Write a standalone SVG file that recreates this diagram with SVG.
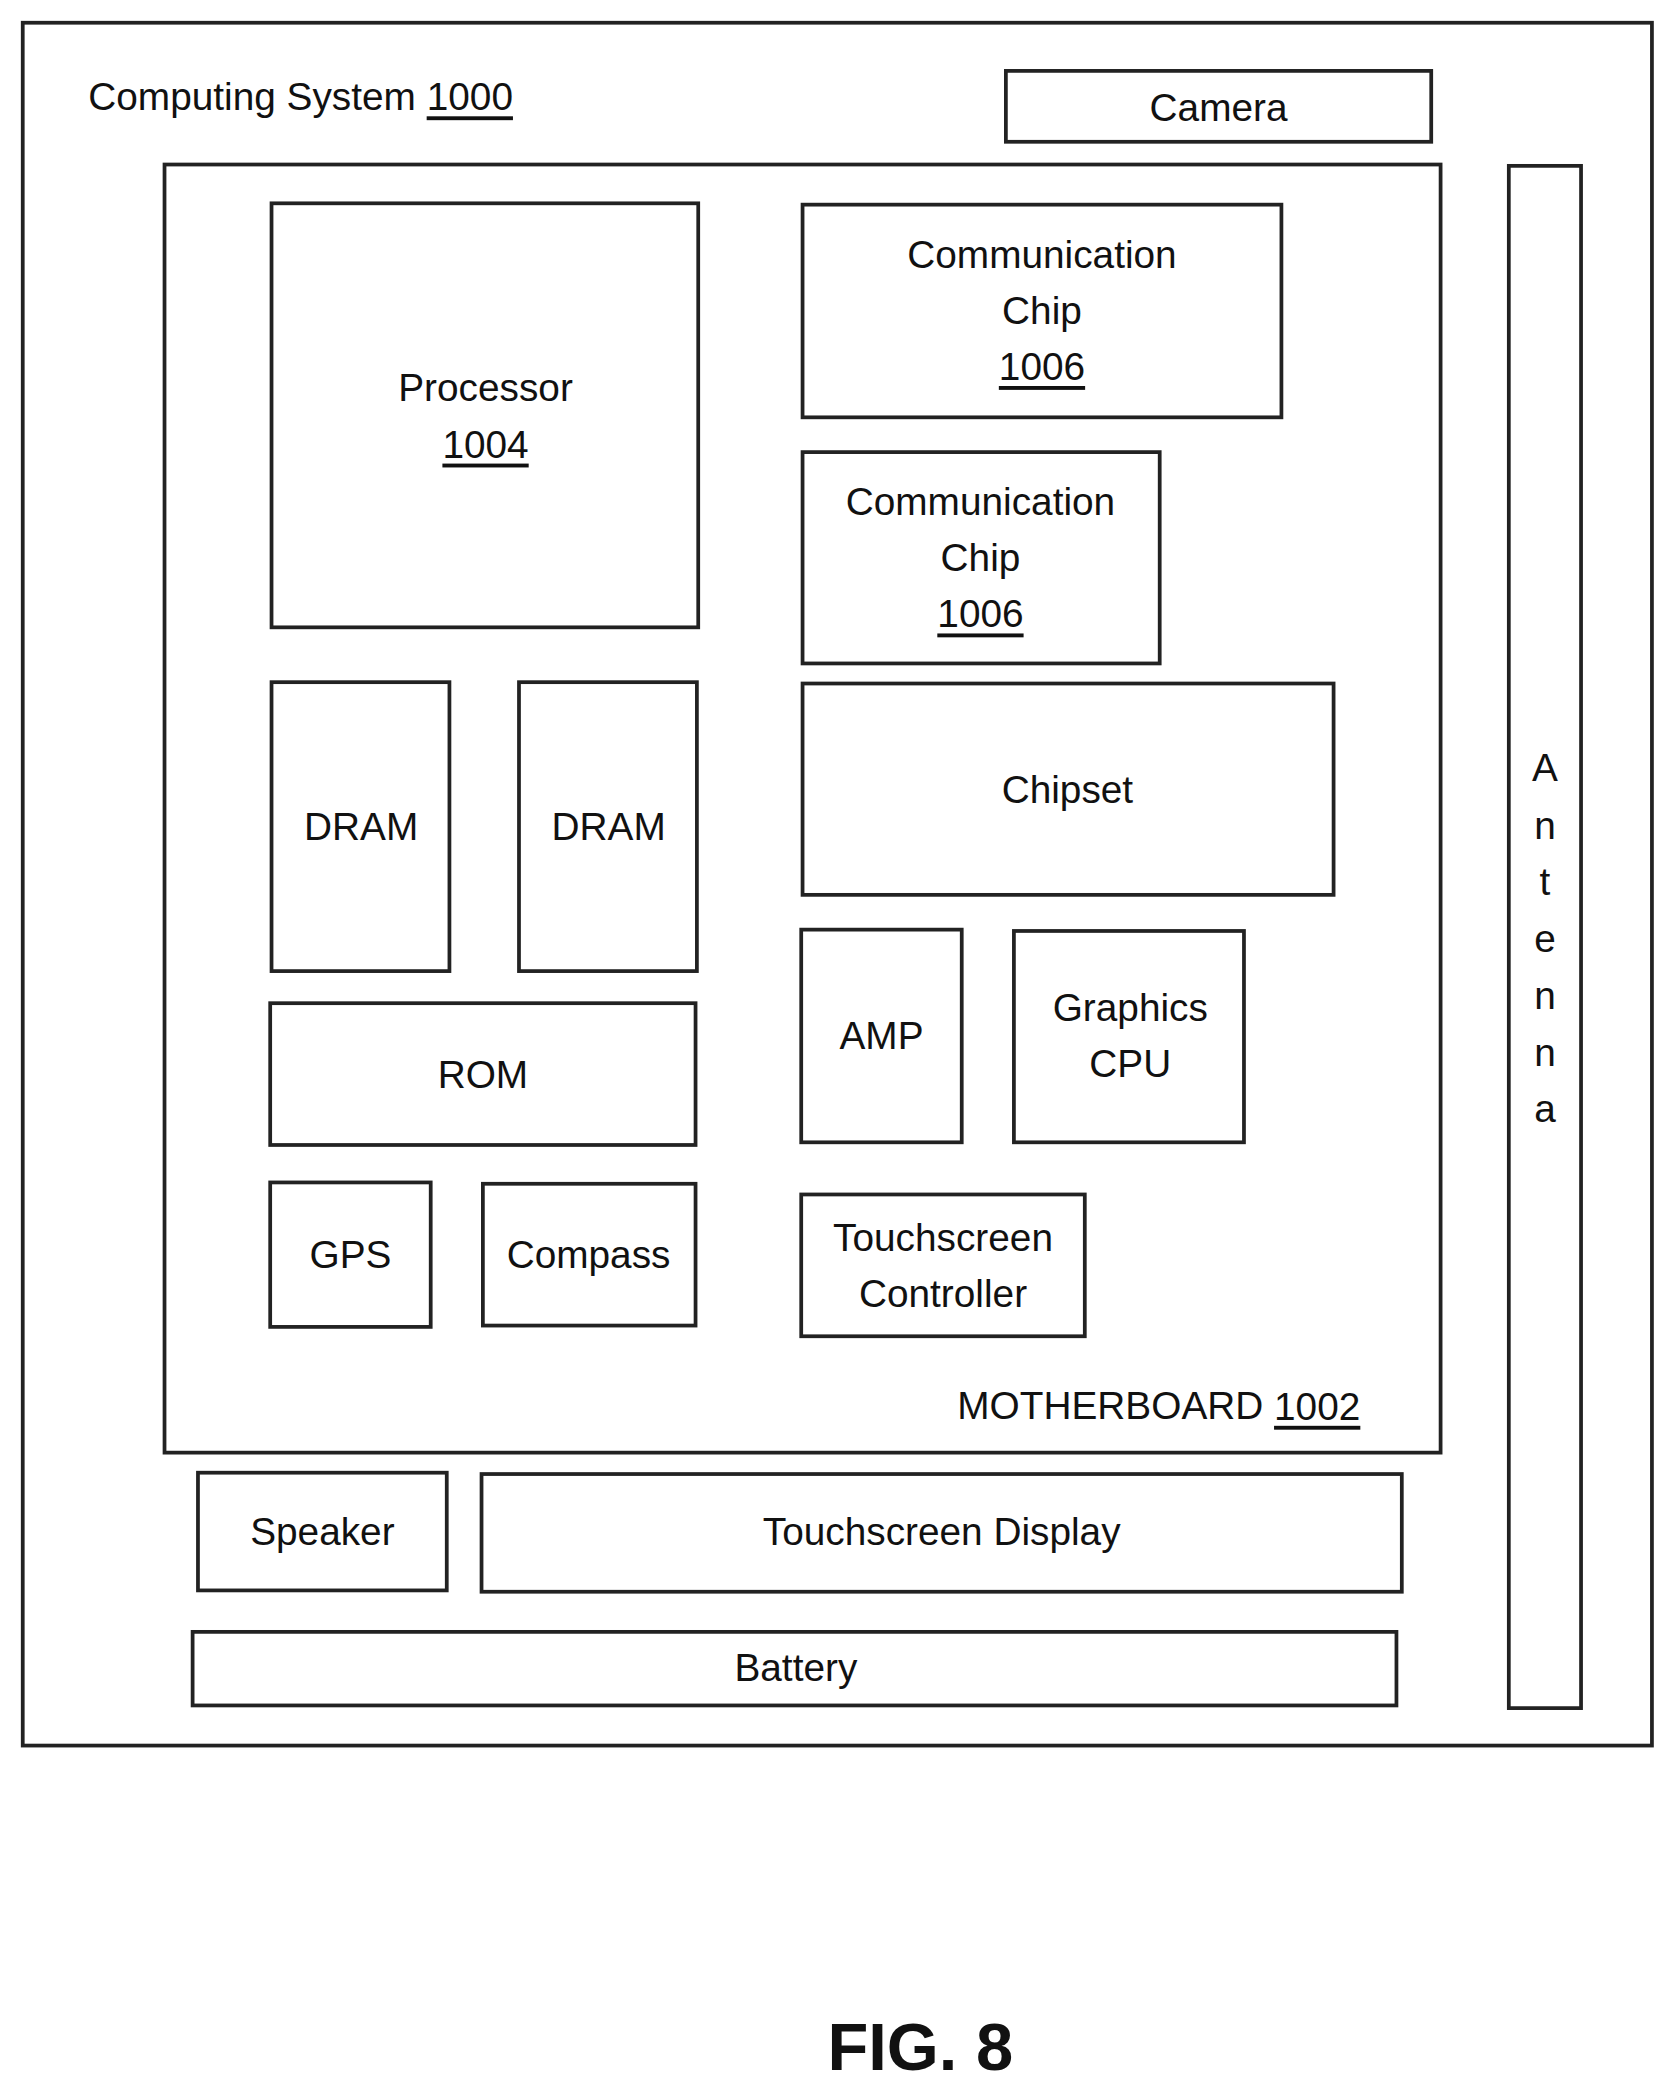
<svg xmlns="http://www.w3.org/2000/svg" width="1672" height="2094" viewBox="0 0 1672 2094">
<style>
rect{fill:none;stroke:#222;stroke-width:2.8}
text{font-family:"Liberation Sans",Arial,sans-serif;font-size:29px;fill:#111;text-anchor:middle;dominant-baseline:central}
.u{text-decoration:underline}
</style>
<rect x="0" y="0" width="1672" height="2094" style="fill:#fff;stroke:none"/>
<g transform="scale(1.3376)">
<g id="system"><rect x="17" y="17" width="1218" height="1288"/><text x="66" y="72" style="text-anchor:start">Computing System <tspan class="u">1000</tspan></text></g>
<g id="camera"><rect x="752" y="53" width="318" height="53"/><text x="911" y="80">Camera</text></g>
<g id="motherboard"><rect x="123" y="123" width="954" height="963"/><text x="1017" y="1051" style="text-anchor:end">MOTHERBOARD <tspan class="u">1002</tspan></text></g>
<g id="antenna"><rect x="1128" y="124" width="54" height="1153"/>
<text x="1155" y="574">A</text><text x="1155" y="617">n</text><text x="1155" y="659">t</text><text x="1155" y="702">e</text><text x="1155" y="744">n</text><text x="1155" y="787">n</text><text x="1155" y="829">a</text></g>
<g id="processor"><rect x="203" y="152" width="319" height="317"/><text x="363" y="290">Processor</text><text x="363" y="332" class="u">1004</text></g>
<g id="comm1"><rect x="600" y="153" width="358" height="159"/><text x="779" y="190">Communication</text><text x="779" y="232">Chip</text><text x="779" y="274" class="u">1006</text></g>
<g id="comm2"><rect x="600" y="338" width="267" height="158"/><text x="733" y="375">Communication</text><text x="733" y="417">Chip</text><text x="733" y="459" class="u">1006</text></g>
<g id="dram1"><rect x="203" y="510" width="133" height="216"/><text x="270" y="618">DRAM</text></g>
<g id="dram2"><rect x="388" y="510" width="133" height="216"/><text x="455" y="618">DRAM</text></g>
<g id="chipset"><rect x="600" y="511" width="397" height="158"/><text x="798" y="590">Chipset</text></g>
<g id="amp"><rect x="599" y="695" width="120" height="159"/><text x="659" y="774">AMP</text></g>
<g id="gcpu"><rect x="758" y="696" width="172" height="158"/><text x="845" y="753">Graphics</text><text x="845" y="795">CPU</text></g>
<g id="rom"><rect x="202" y="750" width="318" height="106"/><text x="361" y="803">ROM</text></g>
<g id="gps"><rect x="202" y="884" width="120" height="108"/><text x="262" y="938">GPS</text></g>
<g id="compass"><rect x="361" y="885" width="159" height="106"/><text x="440" y="938">Compass</text></g>
<g id="tsc"><rect x="599" y="893" width="212" height="106"/><text x="705" y="925">Touchscreen</text><text x="705" y="967">Controller</text></g>
<g id="speaker"><rect x="148" y="1101" width="186" height="88"/><text x="241" y="1145">Speaker</text></g>
<g id="tsd"><rect x="360" y="1102" width="688" height="88"/><text x="704" y="1145">Touchscreen Display</text></g>
<g id="battery"><rect x="144" y="1220" width="900" height="55"/><text x="595" y="1247">Battery</text></g>
<g id="connectors"/>
<text x="688" y="1530" style="font-size:50px;font-weight:bold">FIG. 8</text>
</g>
</svg>
